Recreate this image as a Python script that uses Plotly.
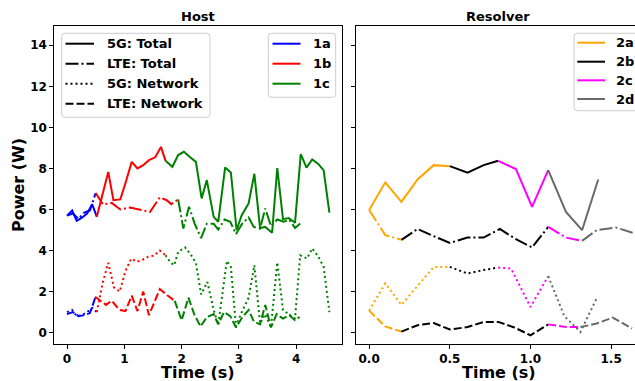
import plotly.graph_objects as go

# ---------------- Host panel data ----------------
h1a_5g_total_x = [0.0, 0.09, 0.17, 0.26, 0.35, 0.44, 0.52]
h1a_5g_total_y = [5.7, 5.95, 5.45, 5.6, 5.8, 6.25, 5.65]
h1a_lte_total_x = [0.0, 0.1, 0.2, 0.3, 0.4, 0.5]
h1a_lte_total_y = [5.7, 5.8, 5.55, 5.85, 5.95, 6.8]
h1a_5g_net_x = [0.0, 0.09, 0.17, 0.26, 0.35, 0.44, 0.52]
h1a_5g_net_y = [1.0, 1.1, 0.8, 0.85, 1.0, 1.2, 1.0]
h1a_lte_net_x = [0.0, 0.1, 0.2, 0.3, 0.4, 0.5]
h1a_lte_net_y = [0.9, 1.0, 0.8, 0.85, 0.95, 1.75]

h1b_5g_total_x = [0.52, 0.72, 0.81, 0.93, 1.01, 1.13, 1.23, 1.33, 1.43, 1.54, 1.64, 1.72]
h1b_5g_total_y = [5.65, 7.83, 6.45, 6.49, 7.19, 8.32, 8.0, 8.16, 8.4, 8.54, 9.05, 8.37]
h1b_lte_total_x = [0.5, 0.63, 0.78, 0.93, 1.1, 1.27, 1.45, 1.62, 1.74, 1.82, 1.94]
h1b_lte_total_y = [6.8, 6.24, 6.32, 6.0, 6.1, 6.0, 5.88, 6.59, 6.45, 6.26, 6.49]
h1b_5g_net_x = [0.52, 0.62, 0.72, 0.82, 0.92, 1.02, 1.12, 1.22, 1.32, 1.42, 1.52, 1.62, 1.72]
h1b_5g_net_y = [1.0, 2.4, 3.4, 2.2, 2.0, 3.0, 3.6, 3.45, 3.55, 3.7, 3.75, 4.0, 3.77]
h1b_lte_net_x = [0.49, 0.58, 0.68, 0.78, 0.92, 1.02, 1.13, 1.23, 1.33, 1.43, 1.62, 1.75, 1.88]
h1b_lte_net_y = [1.75, 1.55, 1.35, 1.55, 1.1, 1.05, 1.8, 1.05, 2.0, 0.85, 2.12, 1.82, 1.55]

h1c_5g_total_x = [1.72, 1.84, 1.94, 2.04, 2.15, 2.25, 2.35, 2.44, 2.56, 2.64, 2.76, 2.86, 2.96, 3.05,
                  3.17, 3.27, 3.37, 3.46, 3.58, 3.67, 3.77, 3.87, 3.98, 4.08, 4.18, 4.28, 4.39, 4.48, 4.58]
h1c_5g_total_y = [8.37, 8.08, 8.65, 8.81, 8.54, 8.32, 6.54, 7.43, 5.64, 5.40, 8.05, 7.8, 5.0, 5.72,
                  6.29, 7.74, 5.1, 5.15, 4.87, 8.02, 5.53, 5.58, 5.35, 8.70, 8.04, 8.44, 8.21, 7.9, 5.84]
h1c_lte_total_x = [1.94, 2.03, 2.13, 2.23, 2.34, 2.44, 2.56, 2.64, 2.75, 2.85, 2.95, 3.06, 3.17, 3.26,
                   3.37, 3.46, 3.56, 3.67, 3.78, 3.88, 3.98, 4.07]
h1c_lte_total_y = [6.49, 5.07, 6.13, 5.3, 4.6, 5.3, 5.3, 5.02, 5.51, 5.4, 4.8, 5.32, 5.61, 5.15,
                   5.07, 6.05, 5.19, 5.51, 5.4, 5.5, 5.1, 5.32]
h1c_5g_net_x = [1.72, 1.80, 1.87, 1.94, 2.06, 2.15, 2.25, 2.34, 2.45, 2.56, 2.64, 2.79, 2.86, 2.95, 3.05,
                3.17, 3.27, 3.37, 3.46, 3.56, 3.67, 3.77, 3.87, 3.98, 4.07, 4.19, 4.28, 4.39, 4.48, 4.58]
h1c_5g_net_y = [3.77, 3.44, 3.28, 3.93, 4.15, 3.85, 3.4, 1.86, 2.47, 1.1, 0.4, 3.5, 3.2, 0.3, 1.0,
                1.7, 3.28, 0.45, 0.9, 0.25, 3.42, 1.1, 0.9, 0.68, 3.77, 3.61, 4.1, 3.69, 3.2, 1.0]
h1c_lte_net_x = [1.88, 2.00, 2.12, 2.22, 2.33, 2.44, 2.56, 2.64, 2.74, 2.85, 2.95, 3.06, 3.17, 3.26,
                 3.37, 3.46, 3.56, 3.66, 3.77, 3.88, 3.98, 4.06]
h1c_lte_net_y = [1.55, 0.6, 1.7, 0.9, 0.3, 0.75, 0.9, 0.4, 1.0, 0.8, 0.25, 0.75, 1.1, 0.55,
                 0.4, 1.35, 0.25, 0.9, 0.68, 0.85, 0.6, 0.76]

# ---------------- Resolver panel data ----------------
r2a_5g_total_x = [0.0, 0.1, 0.2, 0.3, 0.4, 0.5]
r2a_5g_total_y = [5.97, 7.32, 6.37, 7.46, 8.16, 8.11]
r2a_lte_total_x = [0.0, 0.1, 0.2]
r2a_lte_total_y = [5.97, 4.75, 4.52]
r2a_5g_net_x = [0.0, 0.1, 0.2, 0.3, 0.4, 0.5]
r2a_5g_net_y = [1.07, 2.4, 1.35, 2.3, 3.2, 3.2]
r2a_lte_net_x = [0.0, 0.1, 0.2]
r2a_lte_net_y = [1.07, 0.3, 0.05]

r2b_5g_total_x = [0.5, 0.61, 0.71, 0.8]
r2b_5g_total_y = [8.11, 7.79, 8.16, 8.37]
r2b_lte_total_x = [0.2, 0.3, 0.4, 0.5, 0.61, 0.71, 0.81, 0.9, 1.01, 1.11]
r2b_lte_total_y = [4.52, 5.05, 4.7, 4.37, 4.63, 4.63, 5.05, 4.6, 4.15, 5.15]
r2b_5g_net_x = [0.5, 0.61, 0.71, 0.8]
r2b_5g_net_y = [3.2, 2.88, 3.05, 3.17]
r2b_lte_net_x = [0.2, 0.3, 0.4, 0.5, 0.61, 0.71, 0.8, 0.9, 1.0, 1.11]
r2b_lte_net_y = [0.05, 0.36, 0.47, 0.15, 0.27, 0.52, 0.52, 0.25, -0.13, 0.4]

r2c_5g_total_x = [0.8, 0.91, 1.01, 1.11]
r2c_5g_total_y = [8.37, 7.97, 6.13, 7.92]
r2c_lte_total_x = [1.11, 1.22, 1.32]
r2c_lte_total_y = [5.15, 4.63, 4.47]
r2c_5g_net_x = [0.8, 0.88, 1.0, 1.11]
r2c_5g_net_y = [3.17, 3.12, 1.25, 2.75]
r2c_lte_net_x = [1.11, 1.21, 1.31]
r2c_lte_net_y = [0.4, 0.28, 0.27]

r2d_5g_total_x = [1.11, 1.22, 1.32, 1.42]
r2d_5g_total_y = [7.92, 5.88, 4.99, 7.46]
r2d_lte_total_x = [1.32, 1.41, 1.53, 1.66]
r2d_lte_total_y = [4.47, 4.99, 5.12, 4.8]
r2d_5g_net_x = [1.11, 1.21, 1.31, 1.41]
r2d_5g_net_y = [2.75, 0.8, 0.03, 1.66]
r2d_lte_net_x = [1.31, 1.41, 1.51, 1.63]
r2d_lte_net_y = [0.27, 0.44, 0.73, 0.2]

style_labels = ["5G: Total", "LTE: Total", "5G: Network", "LTE: Network"]
style_dash = ["solid", "13px,3px,2px,3px", "2px,3px", "8px,3px"]

host_labels = ["1a", "1b", "1c"]
host_colors = ["#0000ff", "#ff0000", "#008000"]
res_labels = ["2a", "2b", "2c", "2d"]
res_colors = ["#ffa500", "#000000", "#ff00ff", "#696969"]

host_series = [
    [(h1a_5g_total_x, h1a_5g_total_y), (h1a_lte_total_x, h1a_lte_total_y),
     (h1a_5g_net_x, h1a_5g_net_y), (h1a_lte_net_x, h1a_lte_net_y)],
    [(h1b_5g_total_x, h1b_5g_total_y), (h1b_lte_total_x, h1b_lte_total_y),
     (h1b_5g_net_x, h1b_5g_net_y), (h1b_lte_net_x, h1b_lte_net_y)],
    [(h1c_5g_total_x, h1c_5g_total_y), (h1c_lte_total_x, h1c_lte_total_y),
     (h1c_5g_net_x, h1c_5g_net_y), (h1c_lte_net_x, h1c_lte_net_y)],
]
res_series = [
    [(r2a_5g_total_x, r2a_5g_total_y), (r2a_lte_total_x, r2a_lte_total_y),
     (r2a_5g_net_x, r2a_5g_net_y), (r2a_lte_net_x, r2a_lte_net_y)],
    [(r2b_5g_total_x, r2b_5g_total_y), (r2b_lte_total_x, r2b_lte_total_y),
     (r2b_5g_net_x, r2b_5g_net_y), (r2b_lte_net_x, r2b_lte_net_y)],
    [(r2c_5g_total_x, r2c_5g_total_y), (r2c_lte_total_x, r2c_lte_total_y),
     (r2c_5g_net_x, r2c_5g_net_y), (r2c_lte_net_x, r2c_lte_net_y)],
    [(r2d_5g_total_x, r2d_5g_total_y), (r2d_lte_total_x, r2d_lte_total_y),
     (r2d_5g_net_x, r2d_5g_net_y), (r2d_lte_net_x, r2d_lte_net_y)],
]

FONT = "DejaVu Sans"
LW = 2

fig = go.Figure()

for lab, color, series in zip(host_labels, host_colors, host_series):
    for (xs, ys), dash, sl in zip(series, style_dash, style_labels):
        fig.add_trace(go.Scatter(x=xs, y=ys, mode="lines", xaxis="x", yaxis="y",
                                 name=f"{lab} {sl}",
                                 line=dict(color=color, width=LW, dash=dash),
                                 showlegend=False, hoverinfo="skip"))

for lab, color, series in zip(res_labels, res_colors, res_series):
    for (xs, ys), dash, sl in zip(series, style_dash, style_labels):
        fig.add_trace(go.Scatter(x=xs, y=ys, mode="lines", xaxis="x2", yaxis="y2",
                                 name=f"{lab} {sl}",
                                 line=dict(color=color, width=LW, dash=dash),
                                 showlegend=False, hoverinfo="skip"))

W, H = 635, 381
ML, MR, MT, MB = 54, 0, 26, 37
PW = W - ML - MR
PH = H - MT - MB


def px2paper_x(px):
    return (px - ML) / PW


def py2paper_y(py):
    return 1 - (py - MT) / PH


shapes = []
annotations = []


def rounded_box(x0, y0, x1, y1, r=3):
    X = px2paper_x
    Y = py2paper_y
    path = (f"M{X(x0 + r)},{Y(y0)} L{X(x1 - r)},{Y(y0)} Q{X(x1)},{Y(y0)} {X(x1)},{Y(y0 + r)} "
            f"L{X(x1)},{Y(y1 - r)} Q{X(x1)},{Y(y1)} {X(x1 - r)},{Y(y1)} "
            f"L{X(x0 + r)},{Y(y1)} Q{X(x0)},{Y(y1)} {X(x0)},{Y(y1 - r)} "
            f"L{X(x0)},{Y(y0 + r)} Q{X(x0)},{Y(y0)} {X(x0 + r)},{Y(y0)} Z")
    shapes.append(dict(type="path", path=path, xref="paper", yref="paper",
                       fillcolor="rgba(255,255,255,0.8)", line=dict(color="#cccccc", width=1),
                       layer="above"))


def legend_block(box, rows, line_x0, line_x1, text_x, labels, colors, dashes, size):
    rounded_box(*box)
    for ry, lab, col, dsh in zip(rows, labels, colors, dashes):
        shapes.append(dict(type="line", xref="paper", yref="paper",
                           x0=px2paper_x(line_x0), x1=px2paper_x(line_x1),
                           y0=py2paper_y(ry), y1=py2paper_y(ry),
                           line=dict(color=col, width=LW, dash=dsh), layer="above"))
        annotations.append(dict(text=lab, x=px2paper_x(text_x), y=py2paper_y(ry), xref="paper",
                                yref="paper", showarrow=False, xanchor="left", yanchor="middle",
                                font=dict(family=FONT, size=size, color="black", weight="bold")))


legend_block((61.7, 33.3, 210, 117.3), [43.7, 63.7, 83.7, 103.7], 65.5, 94, 104.5,
             style_labels, ["black"] * 4, style_dash, 13)
legend_block((268.3, 33.3, 335.7, 97.3), [43.7, 63.7, 83.7], 272.5, 300.5, 310.5,
             host_labels, host_colors, ["solid"] * 3, 13)
legend_block((574, 33.3, 640, 110.7), [42.7, 61.7, 80.3, 99], 577.3, 605, 613.5,
             res_labels, res_colors, ["solid"] * 4, 13)

title_font = dict(family=FONT, size=16, color="black", weight="bold")
annotations += [
    dict(text="Host", x=px2paper_x(198), y=py2paper_y(16), xref="paper", yref="paper",
         showarrow=False, xanchor="center", yanchor="middle",
         font=dict(family=FONT, size=13, color="black", weight="bold")),
    dict(text="Resolver", x=px2paper_x(498), y=py2paper_y(16), xref="paper", yref="paper",
         showarrow=False, xanchor="center", yanchor="middle",
         font=dict(family=FONT, size=13, color="black", weight="bold")),
    dict(text="Time (s)", x=px2paper_x(198), y=py2paper_y(372), xref="paper", yref="paper",
         showarrow=False, xanchor="center", yanchor="middle", borderpad=0, font=title_font),
    dict(text="Time (s)", x=px2paper_x(499), y=py2paper_y(372), xref="paper", yref="paper",
         showarrow=False, xanchor="center", yanchor="middle", borderpad=0, font=title_font),
    dict(text="Power (W)", x=px2paper_x(18), y=py2paper_y(185), xref="paper", yref="paper",
         showarrow=False, xanchor="center", yanchor="middle", textangle=-90, font=title_font),
]

axis_common = dict(showgrid=False, zeroline=False, showline=True, linecolor="black", linewidth=1.3,
                   ticks="outside", ticklen=3.5, tickwidth=1.1, tickcolor="black",
                   tickfont=dict(family=FONT, size=12, color="black", weight="bold"))

fig.update_layout(
    width=W, height=H,
    margin=dict(l=ML, r=MR, t=MT, b=MB),
    paper_bgcolor="white", plot_bgcolor="white",
    showlegend=False,
    font=dict(family=FONT, size=12, color="black", weight="bold"),
    xaxis=dict(domain=[0, px2paper_x(342)], range=[-0.227, 4.80], tickvals=[0, 1, 2, 3, 4],
               mirror=True, anchor="y", ticklabelstandoff=0, **axis_common),
    yaxis=dict(domain=[0, 1], range=[-0.556, 14.94], tickvals=list(range(0, 15, 2)), mirror=True,
               anchor="x", **axis_common),
    xaxis2=dict(domain=[px2paper_x(356), 1], range=[-0.0815, 1.648], tickvals=[0, 0.5, 1.0, 1.5],
                ticktext=["0.0", "0.5", "1.0", "1.5"], mirror=True, anchor="y2",
                ticklabelstandoff=0, **axis_common),
    yaxis2=dict(domain=[0, 1], range=[-0.556, 14.94], tickvals=list(range(0, 15, 2)),
                showticklabels=False, mirror=False, anchor="x2", **axis_common),
    shapes=shapes,
    annotations=annotations,
)

fig.write_html("out.html", config={"displayModeBar": False},
               post_script="document.body.style.margin='0px';document.body.style.overflow='hidden';")
